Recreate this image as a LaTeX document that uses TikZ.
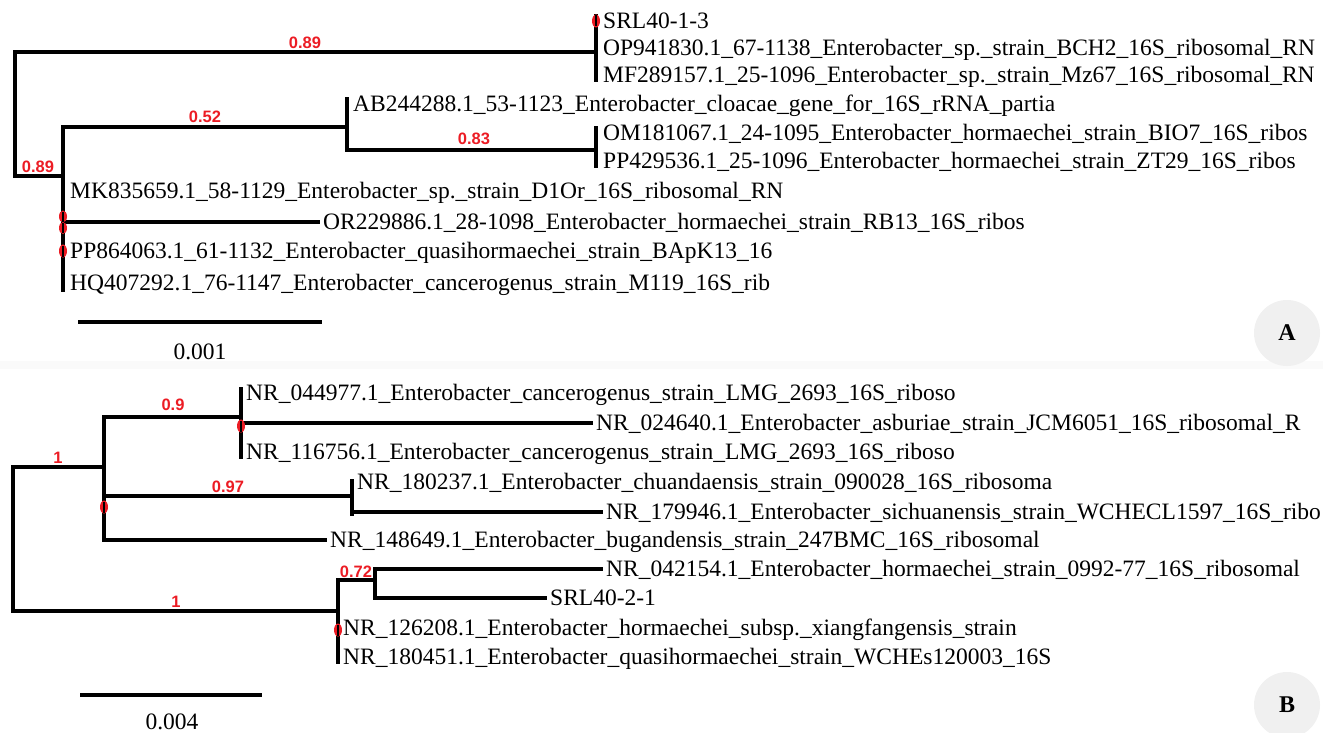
\documentclass[tikz,border=0pt]{standalone}
\usepackage{fontspec}
\setmainfont{Liberation Serif}
\newfontfamily\redfont{Liberation Sans}
\definecolor{supred}{RGB}{236,28,36}
\begin{document}
\begin{tikzpicture}[x=1pt,y=-1pt,
  br/.style={line width=3.1pt, line cap=rect, line join=miter},
  tip/.style={anchor=west, inner sep=0pt, font=\fontsize{23.5}{28}\selectfont, text height=15.6pt, text depth=0pt},
  bslab/.style={inner sep=0pt, text=supred, font=\redfont\bfseries\fontsize{16.5}{19}\selectfont},
  panel/.style={circle, fill=black!6, minimum size=66pt, inner sep=0pt, font=\fontsize{24}{28}\selectfont\bfseries},
  oval/.style={fill=supred},
  core/.style={line width=1.2pt, black}]
\useasboundingbox (0,0) rectangle (1336,733);
\fill[black!2] (0,361) rectangle (1323,369);

% ---------------- Panel A ----------------
\coordinate (nA0) at (15,114);
\coordinate (nA1) at (596,52);
\coordinate (nA2) at (63,176);
\coordinate (nA3) at (347,127);
\coordinate (nA4) at (596,150);
\coordinate (vA1a) at (596,16);
\coordinate (vA1b) at (596,80);
\coordinate (vA3a) at (347,99);
\coordinate (vA4a) at (596,128);
\coordinate (vA4b) at (596,166);
\coordinate (vA2b) at (63,290);
\coordinate (jA8) at (63,222);

\node[tip] (a1) at (603,21) {SRL40-1-3};
\node[tip] (a2) at (603,48) {OP941830.1\_67-1138\_Enterobacter\_sp.\_strain\_BCH2\_16S\_ribosomal\_RN};
\node[tip] (a3) at (603,75) {MF289157.1\_25-1096\_Enterobacter\_sp.\_strain\_Mz67\_16S\_ribosomal\_RN};
\node[tip] (a4) at (353,104) {AB244288.1\_53-1123\_Enterobacter\_cloacae\_gene\_for\_16S\_rRNA\_partia};
\node[tip] (a5) at (603,133) {OM181067.1\_24-1095\_Enterobacter\_hormaechei\_strain\_BIO7\_16S\_ribos};
\node[tip] (a6) at (603,161) {PP429536.1\_25-1096\_Enterobacter\_hormaechei\_strain\_ZT29\_16S\_ribos};
\node[tip] (a7) at (70,191) {MK835659.1\_58-1129\_Enterobacter\_sp.\_strain\_D1Or\_16S\_ribosomal\_RN};
\node[tip] (a8) at (323,222) {OR229886.1\_28-1098\_Enterobacter\_hormaechei\_strain\_RB13\_16S\_ribos};
\node[tip] (a9) at (70,251) {PP864063.1\_61-1132\_Enterobacter\_quasihormaechei\_strain\_BApK13\_16};
\node[tip] (a10) at (70,283) {HQ407292.1\_76-1147\_Enterobacter\_cancerogenus\_strain\_M119\_16S\_rib};

\draw[br] (nA1) -| (nA0) |- (nA2);
\draw[br] (vA1a) -- (vA1b);
\draw[br] (nA2) |- (nA3);
\draw[br] (vA3a) -- (nA3) |- (nA4);
\draw[br] (vA4a) -- (vA4b);
\draw[br] (nA2) -- (vA2b);
\draw[br, shorten >=5pt] (jA8) -- (a8.west);

\foreach \x/\y/\r in {596/21/6.5, 63/216.5/6, 63/228/6, 63/251/6.5}{
  \fill[oval] (\x,\y) ellipse [x radius=4pt, y radius=\r pt];
  \draw[core] (\x,\y-\r+1) -- (\x,\y+\r-1);
}

\node[bslab] (sA1) at (305,43) {0.89};
\node[bslab] (sA2) at (38,167) {0.89};
\node[bslab] (sA3) at (205,117) {0.52};
\node[bslab] (sA4) at (474,139) {0.83};

\coordinate (sbA1) at (78,322);
\coordinate (sbA2) at (322,322);
\draw[br, line cap=butt] (sbA1) -- (sbA2);
\node[tip, anchor=center] (scA) at (200,352) {0.001};

\node[panel] (labA) at (1287,333) {A};

% ---------------- Panel B ----------------
\coordinate (nB0) at (13,540);
\coordinate (nB1) at (104,467);
\coordinate (nB2) at (241,417);
\coordinate (nB3) at (352,496);
\coordinate (nB4) at (338,611);
\coordinate (nB5) at (375,580);
\coordinate (vB2a) at (241,389);
\coordinate (vB2b) at (241,457);
\coordinate (vB3a) at (352,481);
\coordinate (vB3b) at (352,514);
\coordinate (vB4a) at (338,580);
\coordinate (vB4b) at (338,662);
\coordinate (vB5a) at (375,569);
\coordinate (vB5b) at (375,598);
\coordinate (jB1) at (104,540);
\coordinate (jB2) at (241,423);
\coordinate (jB3) at (352,512);

\node[tip] (b1) at (246,393) {NR\_044977.1\_Enterobacter\_cancerogenus\_strain\_LMG\_2693\_16S\_riboso};
\node[tip] (b2) at (596,423) {NR\_024640.1\_Enterobacter\_asburiae\_strain\_JCM6051\_16S\_ribosomal\_R};
\node[tip] (b3) at (246,452) {NR\_116756.1\_Enterobacter\_cancerogenus\_strain\_LMG\_2693\_16S\_riboso};
\node[tip] (b4) at (357,482) {NR\_180237.1\_Enterobacter\_chuandaensis\_strain\_090028\_16S\_ribosoma};
\node[tip] (b5) at (606,512) {NR\_179946.1\_Enterobacter\_sichuanensis\_strain\_WCHECL1597\_16S\_ribo};
\node[tip] (b6) at (330,540) {NR\_148649.1\_Enterobacter\_bugandensis\_strain\_247BMC\_16S\_ribosomal};
\node[tip] (b7) at (606,569) {NR\_042154.1\_Enterobacter\_hormaechei\_strain\_0992-77\_16S\_ribosomal};
\node[tip] (b8) at (550,598) {SRL40-2-1};
\node[tip] (b9) at (343,628) {NR\_126208.1\_Enterobacter\_hormaechei\_subsp.\_xiangfangensis\_strain};
\node[tip] (b10) at (343,657) {NR\_180451.1\_Enterobacter\_quasihormaechei\_strain\_WCHEs120003\_16S};

\draw[br] (nB1) -| (nB0) |- (nB4);
\draw[br] (nB1) |- (nB2);
\draw[br] (nB1) |- (nB3);
\draw[br] (nB1) -- (jB1);
\draw[br, shorten >=5pt] (jB1) -- (b6.west);
\draw[br] (vB2a) -- (vB2b);
\draw[br, shorten >=5pt] (jB2) -- (b2.west);
\draw[br] (vB3a) -- (vB3b);
\draw[br, shorten >=5pt] (jB3) -- (b5.west);
\draw[br] (vB4a) -- (vB4b);
\draw[br] (vB4a) -- (nB5);
\draw[br] (vB5a) -- (vB5b);
\draw[br, shorten >=5pt] (vB5a) -- (b7.west);
\draw[br, shorten >=5pt] (vB5b) -- (b8.west);

\foreach \x/\y in {241/426, 104/507, 338/630}{
  \fill[oval] (\x,\y) ellipse [x radius=4pt, y radius=6.5pt];
  \draw[core] (\x,\y-5.5) -- (\x,\y+5.5);
}

\node[bslab] (sB1) at (58,458) {1};
\node[bslab] (sB2) at (173,405) {0.9};
\node[bslab] (sB3) at (228,487) {0.97};
\node[bslab] (sB4) at (176,602) {1};
\node[bslab] (sB5) at (356,572) {0.72};

\coordinate (sbB1) at (80,695);
\coordinate (sbB2) at (262,695);
\draw[br, line cap=butt] (sbB1) -- (sbB2);
\node[tip, anchor=center] (scB) at (172,722) {0.004};

\node[panel] (labB) at (1287,705) {B};
\end{tikzpicture}
\end{document}
